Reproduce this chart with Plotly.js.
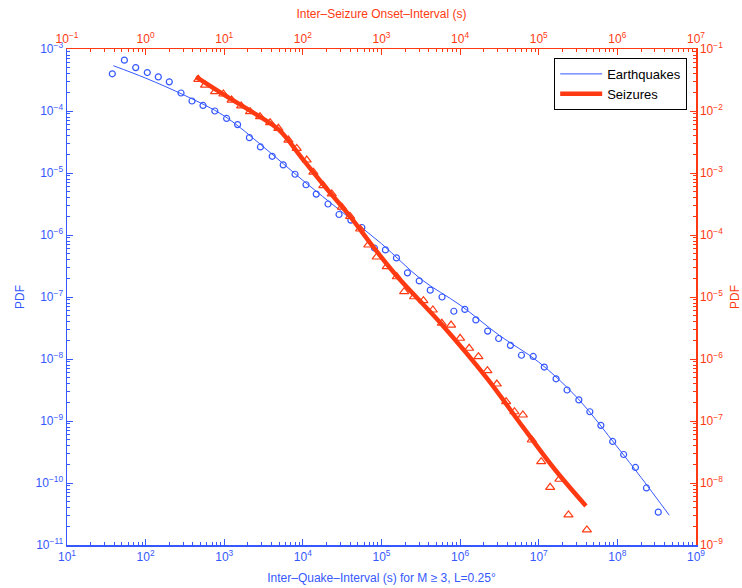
<!DOCTYPE html>
<html>
<head>
<meta charset="utf-8">
<script src="https://cdn.plot.ly/plotly-3.0.1.min.js"></script>
<style>html,body{margin:0;padding:0;background:#fff;}#chart{width:742px;height:588px;}</style>
</head>
<body>
<div id="chart"></div>
<script>
// Earthquakes: inter-quake interval (s) and PDF (markers)
const quakeX = [37.7, 53.7, 74.8, 105, 145, 200, 282, 389, 537, 759, 1072, 1479, 2089, 2884, 4074, 5623, 7943,
  1.096e4, 1.479e4, 2.089e4, 2.884e4, 4.074e4, 5.623e4, 8.128e4, 1.122e5, 1.549e5, 2.138e5, 3.02e5, 4.169e5,
  5.888e5, 8.318e5, 1.148e6, 1.585e6, 2.239e6, 3.09e6, 4.365e6, 6.026e6, 8.511e6, 1.175e7, 1.66e7, 2.291e7,
  3.236e7, 4.467e7, 6.166e7, 8.71e7, 1.202e8, 1.698e8, 2.344e8, 3.311e8];
const quakeY = [3.98e-4, 6.61e-4, 5.01e-4, 4.17e-4, 3.55e-4, 2.95e-4, 1.95e-4, 1.45e-4, 1.23e-4, 1.0e-4, 7.59e-5,
  6.03e-5, 3.72e-5, 2.63e-5, 1.86e-5, 1.35e-5, 9.55e-6, 6.46e-6, 4.57e-6, 3.16e-6, 2.14e-6, 1.74e-6, 1.32e-6,
  6.17e-7, 5.75e-7, 4.27e-7, 2.45e-7, 1.82e-7, 1.29e-7, 1.0e-7, 5.89e-8, 6.31e-8, 4.27e-8, 2.82e-8, 2.14e-8,
  1.66e-8, 1.15e-8, 1.10e-8, 7.41e-9, 4.79e-9, 3.16e-9, 2.19e-9, 1.41e-9, 8.51e-10, 4.68e-10, 2.88e-10,
  1.78e-10, 8.32e-11, 3.39e-11];
// Earthquakes: fitted curve
const quakeFitX = [38.9, 100, 316, 1000, 3162, 1e4, 3.162e4, 1e5, 3.162e5, 1e6, 3.162e6, 1e7, 3.162e7, 1e8, 2e8, 4.57e8];
const quakeFitY = [5.37e-4, 3.39e-4, 1.78e-4, 8.32e-5, 2.63e-5, 7.59e-6, 2.34e-6, 7.24e-7, 1.95e-7, 7.41e-8,
  2.40e-8, 8.91e-9, 2.29e-9, 3.80e-10, 1.23e-10, 3.02e-11];
// Seizures: inter-seizure onset interval (s) and PDF (markers)
const seizX = [4.68, 5.70, 7.64, 9.75, 12.4, 16.4, 21.3, 28.5, 38.3, 48.8, 65.5, 83.6, 112, 136, 182, 233, 313,
  399, 535, 681, 871, 1167, 1567, 1941, 2600, 3412, 4498, 5848, 7674, 1.0e4, 1.303e4, 1.710e4, 2.223e4,
  2.931e4, 3.846e4, 4.909e4, 6.281e4, 8.166e4, 1.074e5, 1.396e5, 1.832e5, 2.388e5, 4.093e5];
const seizY = [3.24e-2, 2.62e-2, 2.05e-2, 1.88e-2, 1.50e-2, 1.21e-2, 9.75e-3, 8.09e-3, 6.47e-3, 5.26e-3, 3.40e-3,
  2.49e-3, 1.62e-3, 1.03e-3, 6.28e-4, 4.60e-4, 2.81e-4, 1.99e-4, 1.25e-4, 6.90e-5, 4.42e-5, 3.08e-5, 2.12e-5,
  1.22e-5, 1.01e-5, 8.71e-6, 6.17e-6, 3.77e-6, 3.53e-6, 2.16e-6, 1.49e-6, 1.09e-6, 6.47e-7, 3.95e-7, 2.05e-7,
  1.41e-7, 1.25e-7, 4.94e-8, 2.21e-8, 8.53e-9, 1.15e-8, 3.05e-9, 1.75e-9];
// Seizures: fitted curve
const seizFitX = [4.37, 10, 25.1, 50.1, 100, 200, 398, 794, 1585, 5623, 2.188e4, 6.31e4, 1.622e5, 3.981e5];
const seizFitY = [3.55e-2, 1.82e-2, 8.91e-3, 4.90e-3, 1.66e-3, 5.62e-4, 2.0e-4, 6.31e-5, 2.14e-5, 3.80e-6,
  4.90e-7, 7.94e-8, 1.62e-8, 4.27e-9];
// Axis tick exponents
const quakeXExp = [1, 2, 3, 4, 5, 6, 7, 8, 9];
const seizXExp = [-1, 0, 1, 2, 3, 4, 5, 6, 7];
const quakeYExp = [-11, -10, -9, -8, -7, -6, -5, -4, -3];
const seizYExp = [-9, -8, -7, -6, -5, -4, -3, -2, -1];

const BLUE = '#3558ff';
const RED = '#ff3a12';
const FONT = 'Liberation Sans, Arial, Helvetica, sans-serif';

function label(e) { return '10<sup>' + (e < 0 ? '\u2212' + (-e) : e) + '</sup>'; }
function majors(exps) { return exps.map(e => Math.pow(10, e)); }
function minors(exps) {
  const out = [];
  for (let i = 0; i < exps.length - 1; i++) {
    for (let m = 2; m <= 9; m++) out.push(m * Math.pow(10, exps[i]));
  }
  return out;
}
function axis(exps, color, extra) {
  return Object.assign({
    type: 'log',
    range: [exps[0], exps[exps.length - 1]],
    tickmode: 'array',
    tickvals: majors(exps),
    ticktext: exps.map(label),
    ticks: 'inside', ticklen: 6, tickwidth: 1, tickcolor: color,
    minor: { tickmode: 'array', tickvals: minors(exps), ticks: 'inside', ticklen: 3, tickwidth: 1, tickcolor: color },
    showline: true, linecolor: color, linewidth: 1.5,
    showgrid: false, zeroline: false, automargin: false,
    tickfont: { family: FONT, size: 12, color: color }
  }, extra);
}

const traces = [
  { x: quakeFitX, y: quakeFitY, mode: 'lines', name: 'Earthquakes', line: { color: BLUE, width: 1, shape: 'spline' }, xaxis: 'x', yaxis: 'y' },
  { x: seizFitX, y: seizFitY, mode: 'lines', name: 'Seizures', line: { color: RED, width: 4.5, shape: 'spline' }, xaxis: 'x2', yaxis: 'y2' },
  { x: quakeX, y: quakeY, mode: 'markers', showlegend: false, marker: { symbol: 'circle-open', size: 6, color: BLUE, line: { width: 1.2, color: BLUE } }, xaxis: 'x', yaxis: 'y' },
  { x: seizX, y: seizY, mode: 'markers', showlegend: false, marker: { symbol: 'triangle-up-open', size: 8, color: RED, line: { width: 1.2, color: RED } }, xaxis: 'x2', yaxis: 'y2' }
];

const layout = {
  width: 742, height: 588,
  margin: { l: 67, r: 46, t: 49, b: 43 },
  paper_bgcolor: '#ffffff', plot_bgcolor: '#ffffff',
  font: { family: FONT, size: 12 },
  showlegend: true,
  legend: {
    x: 0.986, xanchor: 'right', y: 0.982, yanchor: 'top',
    bgcolor: '#ffffff', bordercolor: '#000000', borderwidth: 1,
    font: { family: FONT, size: 13, color: '#000000' },
    itemwidth: 42, tracegroupgap: 0
  },
  xaxis: axis(quakeXExp, BLUE, {
    side: 'bottom', anchor: 'y',
    title: { text: 'Inter\u2013Quake\u2013Interval (s) for M \u2265 3, L=0.25\u00b0', font: { family: FONT, size: 12, color: BLUE }, standoff: 10 }
  }),
  xaxis2: axis(seizXExp, RED, {
    side: 'top', anchor: 'y', overlaying: 'x',
    title: { text: 'Inter\u2013Seizure Onset\u2013Interval (s)', font: { family: FONT, size: 12, color: RED }, standoff: 8 }
  }),
  yaxis: axis(quakeYExp, BLUE, {
    side: 'left', anchor: 'x',
    title: { text: 'PDF', font: { family: FONT, size: 12, color: BLUE }, standoff: 8 }
  }),
  yaxis2: axis(seizYExp, RED, {
    side: 'right', anchor: 'x', overlaying: 'y',
    title: { text: 'PDF', font: { family: FONT, size: 12, color: RED }, standoff: 8 }
  })
};

Plotly.newPlot('chart', traces, layout, { staticPlot: true, displayModeBar: false });
</script>
</body>
</html>
